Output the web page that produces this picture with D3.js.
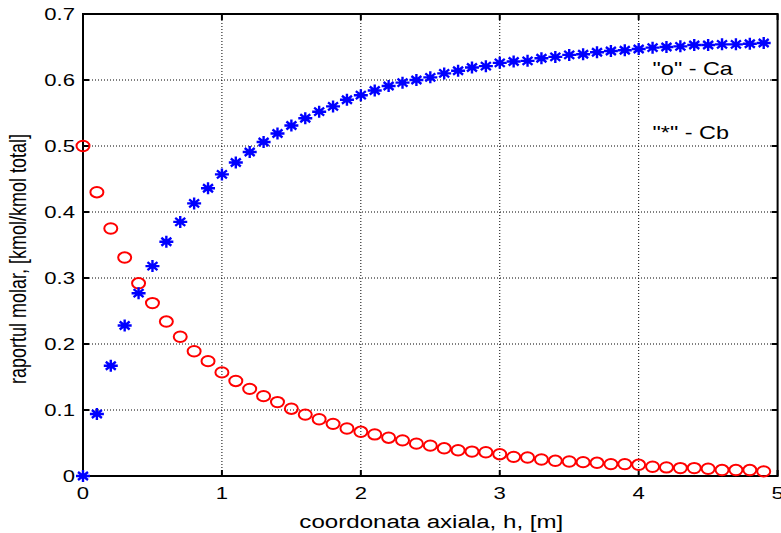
<!DOCTYPE html>
<html>
<head>
<meta charset="utf-8">
<script src="https://cdn.jsdelivr.net/npm/d3@7"></script>
<style>
  body { margin: 0; background: #fff; }
  text { font-family: "Liberation Sans", Arial, sans-serif; fill: #000; }
</style>
</head>
<body>
<div class="chart"></div>
<script>
// axial coordinate h [m], step 0.1
var hValues = d3.range(0, 50).map(i => +(i * 0.1).toFixed(1));

// "o" - Ca
var caValues = [0.500, 0.430, 0.375, 0.331, 0.292, 0.262, 0.234, 0.211, 0.189, 0.174,
  0.157, 0.144, 0.132, 0.121, 0.112, 0.102, 0.093, 0.086, 0.079, 0.072,
  0.067, 0.063, 0.058, 0.054, 0.049, 0.046, 0.042, 0.039, 0.037, 0.036,
  0.033, 0.029, 0.028, 0.025, 0.023, 0.022, 0.021, 0.020, 0.018, 0.018,
  0.017, 0.014, 0.013, 0.012, 0.012, 0.011, 0.009, 0.009, 0.009, 0.007];

// "*" - Cb
var cbValues = [0.000, 0.094, 0.167, 0.228, 0.277, 0.318, 0.355, 0.385, 0.413, 0.436,
  0.457, 0.475, 0.491, 0.506, 0.519, 0.531, 0.542, 0.552, 0.560, 0.570,
  0.577, 0.584, 0.591, 0.596, 0.600, 0.604, 0.610, 0.614, 0.619, 0.621,
  0.626, 0.628, 0.629, 0.633, 0.635, 0.638, 0.639, 0.642, 0.644, 0.645,
  0.647, 0.649, 0.650, 0.651, 0.653, 0.653, 0.654, 0.654, 0.655, 0.656];

var xTicks = [0, 1, 2, 3, 4, 5];
var xTickLabels = ["0", "1", "2", "3", "4", "5"];
var yTicks = [0, 0.1, 0.2, 0.3, 0.4, 0.5, 0.6, 0.7];
var yTickLabels = ["0", "0.1", "0.2", "0.3", "0.4", "0.5", "0.6", "0.7"];

var svgWidth = 781;
var svgHeight = 533;
var stretch = 1.3; // the picture is drawn wider than tall

var margin = { top: 14, right: 3.4, bottom: 57, left: 83 };
var width = svgWidth - margin.left - margin.right;
var height = svgHeight - margin.top - margin.bottom;

var svg = d3.select(".chart")
  .append("svg")
  .attr("width", svgWidth)
  .attr("height", svgHeight);

var chartGroup = svg.append("g")
  .attr("transform", `translate(${margin.left}, ${margin.top})`);

var xScale = d3.scaleLinear().domain([0, 5]).range([0, width]);
var yScale = d3.scaleLinear().domain([0, 0.7]).range([height, 0]);

// dotted grid
chartGroup.selectAll(".gx")
  .data(xTicks.slice(1, -1))
  .enter()
  .append("line")
  .attr("x1", d => xScale(d)).attr("x2", d => xScale(d))
  .attr("y1", 0).attr("y2", height)
  .attr("stroke", "#000")
  .attr("stroke-width", 1)
  .attr("stroke-dasharray", "1,2");

chartGroup.selectAll(".gy")
  .data(yTicks.slice(1, -1))
  .enter()
  .append("line")
  .attr("y1", d => yScale(d)).attr("y2", d => yScale(d))
  .attr("x1", 0).attr("x2", width)
  .attr("stroke", "#000")
  .attr("stroke-width", 1)
  .attr("stroke-dasharray", "1,2");

// inward ticks on all four sides
var tl = 6;
xTicks.forEach(function(t) {
  chartGroup.append("line")
    .attr("x1", xScale(t)).attr("x2", xScale(t))
    .attr("y1", height).attr("y2", height - tl)
    .attr("stroke", "#000").attr("stroke-width", 2);
  chartGroup.append("line")
    .attr("x1", xScale(t)).attr("x2", xScale(t))
    .attr("y1", 0).attr("y2", tl)
    .attr("stroke", "#000").attr("stroke-width", 2);
});
yTicks.forEach(function(t) {
  chartGroup.append("line")
    .attr("x1", 0).attr("x2", tl)
    .attr("y1", yScale(t)).attr("y2", yScale(t))
    .attr("stroke", "#000").attr("stroke-width", 2);
  chartGroup.append("line")
    .attr("x1", width).attr("x2", width - tl)
    .attr("y1", yScale(t)).attr("y2", yScale(t))
    .attr("stroke", "#000").attr("stroke-width", 2);
});

// box
chartGroup.append("rect")
  .attr("x", 0).attr("y", 0)
  .attr("width", width).attr("height", height)
  .attr("fill", "none")
  .attr("stroke", "#000")
  .attr("stroke-width", 2);

// tick labels
chartGroup.selectAll(".xl")
  .data(xTicks)
  .enter()
  .append("text")
  .attr("transform", d => `translate(${xScale(d)}, ${height + 23}) scale(${stretch},1)`)
  .attr("text-anchor", "middle")
  .attr("font-size", 17)
  .text((d, i) => xTickLabels[i]);

chartGroup.selectAll(".yl")
  .data(yTicks)
  .enter()
  .append("text")
  .attr("transform", d => `translate(-8, ${yScale(d) + 6}) scale(${stretch},1)`)
  .attr("text-anchor", "end")
  .attr("font-size", 17)
  .text((d, i) => yTickLabels[i]);

// Ca circles
chartGroup.selectAll(".ca")
  .data(hValues)
  .enter()
  .append("ellipse")
  .attr("cx", (d, i) => xScale(d))
  .attr("cy", (d, i) => yScale(caValues[i]))
  .attr("rx", 6.5)
  .attr("ry", 5.2)
  .attr("fill", "none")
  .attr("stroke", "#ff0000")
  .attr("stroke-width", 2);

// Cb stars
var starPath = "M-7,0H7M0,-6V6M-5,-4L5,4M-5,4L5,-4";
chartGroup.selectAll(".cb")
  .data(hValues)
  .enter()
  .append("path")
  .attr("d", starPath)
  .attr("transform", (d, i) => `translate(${xScale(d)}, ${yScale(cbValues[i])})`)
  .attr("fill", "none")
  .attr("stroke", "#0000ff")
  .attr("stroke-width", 2.4);

// annotations
chartGroup.append("text")
  .attr("transform", `translate(${xScale(4.1)}, ${yScale(0.607)}) scale(${stretch},1)`)
  .attr("font-size", 18)
  .text('"o" - Ca');

chartGroup.append("text")
  .attr("transform", `translate(${xScale(4.1)}, ${yScale(0.51)}) scale(${stretch},1)`)
  .attr("font-size", 18)
  .text('"*" - Cb');

// axis titles
chartGroup.append("text")
  .attr("transform", `translate(${width / 2 + 1}, ${height + 52}) scale(${stretch * 1.03},1)`)
  .attr("text-anchor", "middle")
  .attr("font-size", 18)
  .text("coordonata axiala, h, [m]");

chartGroup.append("text")
  .attr("transform", `translate(-57, ${height / 2 + 14}) rotate(-90) scale(1,${stretch})`)
  .attr("text-anchor", "middle")
  .attr("font-size", 18)
  .text("raportul molar, [kmol/kmol total]");
</script>
</body>
</html>
